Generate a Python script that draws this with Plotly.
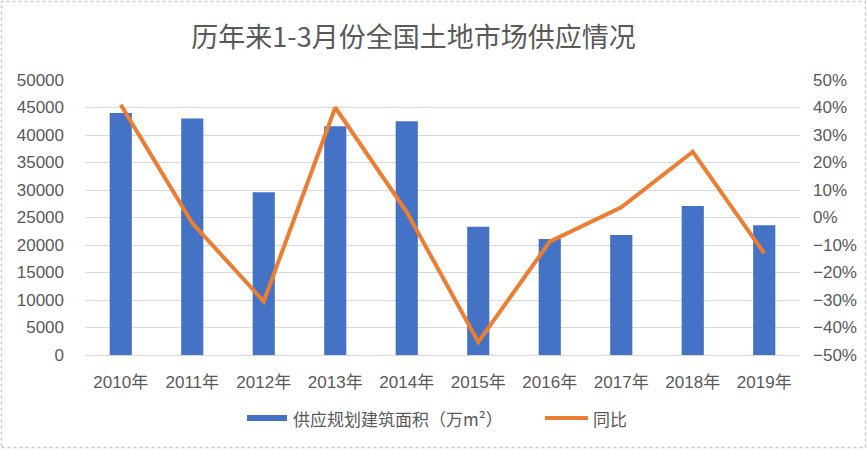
import plotly.graph_objects as go

years = ["2010年", "2011年", "2012年", "2013年", "2014年", "2015年", "2016年", "2017年", "2018年", "2019年"]
supply_area = [44000, 43000, 29600, 41600, 42500, 23300, 21100, 21800, 27100, 23600]
yoy_pct = [41, -2, -30.5, 40, 2, -45.3, -8.8, 3.7, 23.9, -13]
left_ticks = [0, 5000, 10000, 15000, 20000, 25000, 30000, 35000, 40000, 45000, 50000]
left_tick_text = [str(v) for v in left_ticks]
right_ticks = [-50, -40, -30, -20, -10, 0, 10, 20, 30, 40, 50]
right_tick_text = [("−" + str(abs(v)) if v < 0 else str(v)) + "%" for v in right_ticks]

W, H = 867, 449
ML, MR, MT, MB = 85, 67, 80, 94
PW, PH = W - ML - MR, H - MT - MB

GRAY = "#595959"
BLUE = "#4472C4"
ORANGE = "#ED7D31"
FONT = "Noto Sans CJK SC"

fig = go.Figure()
fig.add_trace(go.Bar(x=years, y=supply_area, name="供应规划建筑面积（万m²）",
                     marker=dict(color=BLUE, line=dict(width=0)), yaxis="y"))
fig.add_trace(go.Scatter(x=years, y=yoy_pct, name="同比", mode="lines",
                         line=dict(color=ORANGE, width=4), yaxis="y2"))

def px_x(px):
    return (px - ML) / PW

def px_y(py):
    return (H - MB - py) / PH

shapes = [
    dict(type="rect", xref="paper", yref="paper",
         x0=px_x(1.5), x1=px_x(W - 1.5), y0=px_y(H - 1.5), y1=px_y(1.5),
         line=dict(color="#c8c8c8", width=1.5, dash="dot"), fillcolor="rgba(0,0,0,0)", layer="below"),
    dict(type="rect", xref="paper", yref="paper",
         x0=px_x(247), x1=px_x(287), y0=px_y(421), y1=px_y(415),
         line=dict(width=0), fillcolor=BLUE),
    dict(type="line", xref="paper", yref="paper",
         x0=px_x(545), x1=px_x(588), y0=px_y(418), y1=px_y(418),
         line=dict(color=ORANGE, width=4)),
]
annotations = [
    dict(xref="paper", yref="paper", x=px_x(291), y=px_y(418), xanchor="left", yanchor="middle",
         text="供应规划建筑面积（万m²）", showarrow=False, font=dict(family=FONT, size=17, color=GRAY)),
    dict(xref="paper", yref="paper", x=px_x(591), y=px_y(418), xanchor="left", yanchor="middle",
         text="同比", showarrow=False, font=dict(family=FONT, size=17, color=GRAY)),
]

fig.update_layout(
    width=W, height=H,
    margin=dict(l=ML, r=MR, t=MT, b=MB, autoexpand=False),
    paper_bgcolor="white", plot_bgcolor="white",
    showlegend=False,
    bargap=0.69,
    title=dict(text="历年来1-3月份全国土地市场供应情况", x=413.5 / W, xanchor="center",
               y=1 - 38 / H, yanchor="middle", yref="container",
               font=dict(family=FONT, size=27, color=GRAY)),
    xaxis=dict(type="category", showgrid=False, showline=True, linecolor="#d9d9d9", linewidth=1,
               ticks="", tickfont=dict(family="Liberation Sans, " + FONT, size=17, color=GRAY),
               ticklabelstandoff=12, automargin=False),
    yaxis=dict(range=[0, 50000], tickvals=left_ticks, ticktext=left_tick_text, showgrid=True,
               gridcolor="#d9d9d9", gridwidth=1, zeroline=False, showline=False, ticks="",
               tickfont=dict(family="Liberation Sans", size=17, color=GRAY), ticklabelstandoff=20,
               automargin=False),
    yaxis2=dict(range=[-50, 50], tickvals=right_ticks, ticktext=right_tick_text, overlaying="y",
                side="right", showgrid=False, zeroline=False, showline=False, ticks="",
                tickfont=dict(family="Liberation Sans", size=17, color=GRAY), ticklabelstandoff=12,
                automargin=False),
    shapes=shapes,
    annotations=annotations,
)

fig.write_html("out.html", config={"displayModeBar": False},
               post_script="document.body.style.margin='0';document.body.style.overflow='hidden';")
